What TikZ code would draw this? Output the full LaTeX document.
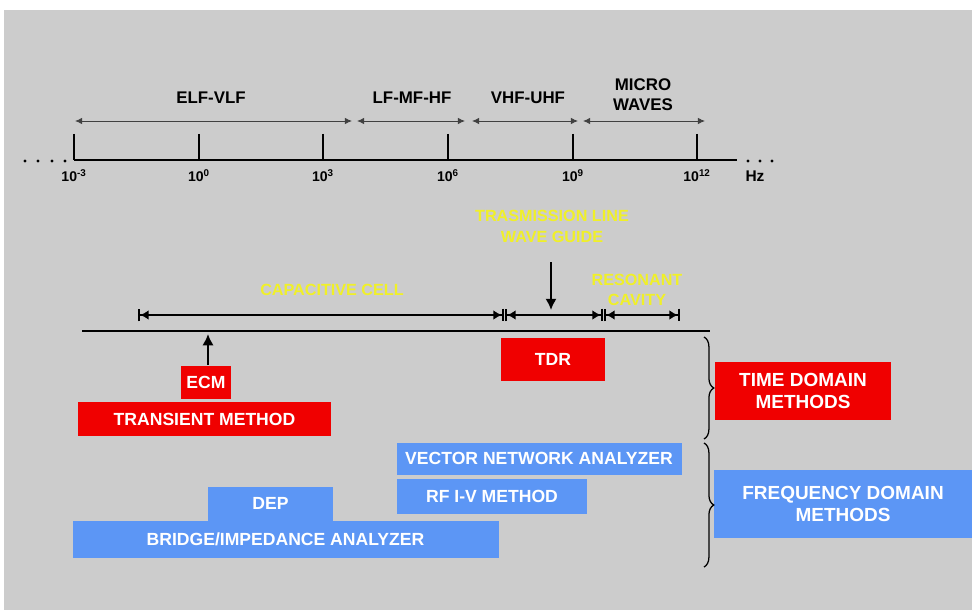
\documentclass[tikz,border=0pt]{standalone}
\usepackage{fontspec}
\setmainfont{Liberation Sans}
\usetikzlibrary{arrows.meta,decorations.pathreplacing}
\definecolor{bggray}{RGB}{204,204,204}
\definecolor{boxred}{RGB}{240,0,0}
\definecolor{boxblue}{RGB}{92,150,245}
\definecolor{txtyellow}{RGB}{240,240,40}
\def\u{0.025cm}
\begin{document}
\begin{tikzpicture}[x=0.025cm,y=-0.025cm,
  redbox/.style={fill=boxred,text=white,inner sep=0pt,align=center,font=\bfseries\fontsize{12.5}{15}\selectfont},
  bluebox/.style={fill=boxblue,text=white,inner sep=0pt,align=center,font=\bfseries\fontsize{12.5}{15}\selectfont},
  bigbox/.style={font=\bfseries\fontsize{13.5}{16}\selectfont},
  bandlbl/.style={font=\bfseries\fontsize{12}{14}\selectfont,align=center},
  ticklbl/.style={font=\bfseries\fontsize{10}{11}\selectfont,inner sep=0pt},
  yellowlbl/.style={text=txtyellow,font=\bfseries\fontsize{11.5}{15}\selectfont,align=center},
  band/.style={draw=black!75,line width=0.6pt,{Latex[length=5pt,width=4.5pt]}-{Latex[length=5pt,width=4.5pt]}},
  measrange/.style={line width=1.3pt,{Bar[width=9pt,line width=1.6pt]Latex[length=6pt,width=7pt]}-{Latex[length=6pt,width=7pt]Bar[width=9pt,line width=1.6pt]}},
  pointer/.style={line width=1.4pt,-{Latex[length=8pt,width=8pt]}},
  axis/.style={line width=1.3pt},
  curly/.style={decorate,decoration={brace,amplitude=7pt},line width=0.9pt}]
\useasboundingbox (0,0) rectangle (972,610);
\fill[white] (0,0) rectangle (972,610);
\fill[bggray] (4,10) rectangle (972,610);

% frequency axis
\draw[axis] (74,160) -- (737,160);
\foreach \x in {25,38,52,65}{
	\fill (\x,161) circle (1.6*\u);
}
\foreach \x in {748,760,772}{
	\fill (\x,161) circle (1.6*\u);
}
\foreach \x/\e [count=\i] in {74/-3,199/0,323/3,448/6,573/9,697/12}{
	\draw[axis] (\x,134) -- (\x,160);
	\node[ticklbl] (tick\i) at (\x,176) {10\textsuperscript{\e}};
}
\node[font=\bfseries\fontsize{11}{12}\selectfont] (hz) at (755,176) {Hz};

% frequency bands
\draw[band] (75,121) -- (352,121);
\draw[band] (357,121) -- (465,121);
\draw[band] (472,121) -- (578,121);
\draw[band] (583,121) -- (705,121);
\node[bandlbl] (elf) at (211,98) {ELF-VLF};
\node[bandlbl] (lfhf) at (412,98) {LF-MF-HF};
\node[bandlbl] (vhf) at (528,98) {VHF-UHF};
\node[bandlbl] (micro) at (643,95) {MICRO\\WAVES};

% measurement ranges
\node[yellowlbl] (capcell) at (332,290) {CAPACITIVE CELL};
\node[yellowlbl] (tline) at (552,226) {TRASMISSION LINE\\WAVE GUIDE};
\node[yellowlbl,font=\bfseries\fontsize{11.5}{14}\selectfont] (rescav) at (637,290) {RESONANT\\CAVITY};
\draw[measrange] (138,315) -- (504,315);
\draw[measrange] (505,315) -- (603,315);
\draw[measrange] (604,315) -- (680,315);
\draw[axis] (82,331) -- (710,331);
\coordinate (tltop) at (551,262);
\coordinate (tlbot) at (551,310);
\draw[pointer] (tltop) -- (tlbot);

% time domain
\node[redbox,minimum width=50*\u,minimum height=33*\u] (ecm) at (206,382) {ECM};
\node[redbox,minimum width=253*\u,minimum height=34*\u] (transient) at (204.5,419) {TRANSIENT METHOD};
\node[redbox,minimum width=104*\u,minimum height=43*\u] (tdr) at (553,359.5) {TDR};
\node[redbox,bigbox,minimum width=176*\u,minimum height=58*\u] (timedom) at (803,391) {TIME DOMAIN\\METHODS};
\coordinate (ecmtip) at (208,334);
\draw[pointer] (ecm.north -| ecmtip) -- (ecmtip);

% frequency domain
\node[bluebox,minimum width=285*\u,minimum height=32*\u] (vna) at (539,458.5) {VECTOR NETWORK ANALYZER};
\node[bluebox,minimum width=190*\u,minimum height=35*\u] (rfiv) at (492,496) {RF I-V METHOD};
\node[bluebox,minimum width=125*\u,minimum height=34*\u] (dep) at (270.5,503.5) {DEP};
\node[bluebox,minimum width=426*\u,minimum height=37*\u] (bridge) at (285.5,539.5) {BRIDGE/IMPEDANCE ANALYZER};
\node[bluebox,bigbox,minimum width=258*\u,minimum height=68*\u] (freqdom) at (843,504) {FREQUENCY DOMAIN\\METHODS};

% braces
\draw[curly] (704,337) -- (704,439);
\draw[curly] (704,443) -- (704,567);
\end{tikzpicture}
\end{document}
